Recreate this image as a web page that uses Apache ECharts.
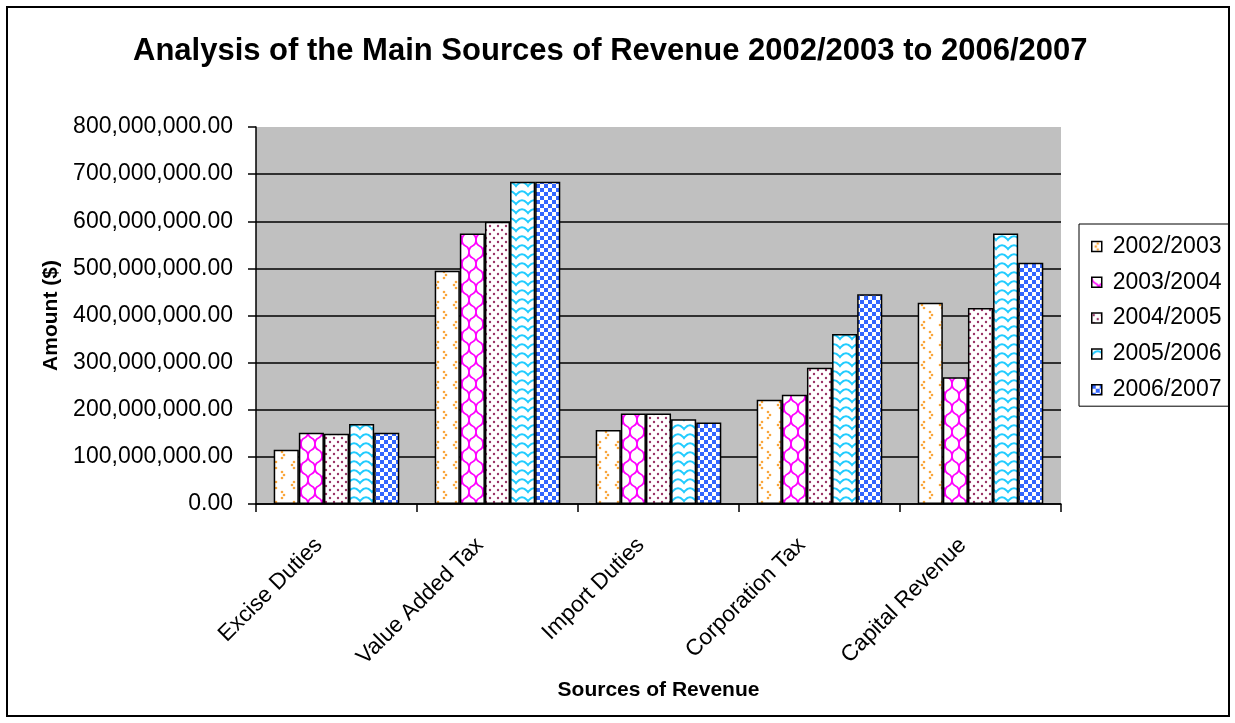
<!DOCTYPE html>
<html>
<head>
<meta charset="utf-8">
<script src="https://cdn.jsdelivr.net/npm/echarts@6/dist/echarts.min.js"></script>
<style>
  html, body { margin: 0; padding: 0; background: #fff; }
  #chart { width: 1235px; height: 723px; }
</style>
</head>
<body>
<div id="chart"></div>
<script>
// Revenue sources and yearly amounts ($)
const categories = ['Excise Duties', 'Value Added Tax', 'Import Duties', 'Corporation Tax', 'Capital Revenue'];
const years = ['2002/2003', '2003/2004', '2004/2005', '2005/2006', '2006/2007'];
const rev2002 = [115000000, 495000000, 157000000, 221000000, 427000000];
const rev2003 = [151000000, 574000000, 192000000, 232000000, 269000000];
const rev2004 = [149000000, 599000000, 192000000, 289000000, 416000000];
const rev2005 = [170000000, 684000000, 180000000, 361000000, 574000000];
const rev2006 = [151000000, 684000000, 173000000, 445000000, 512000000];
const yMin = 0, yMax = 800000000, yStep = 100000000;

const FONT = "'Liberation Sans', Arial, sans-serif";

// Hatch-style fills, drawn on small tiles that repeat across each bar
function tile(w, h, draw) {
  const c = document.createElement('canvas');
  c.width = w; c.height = h;
  const g = c.getContext('2d');
  g.fillStyle = '#fff';
  g.fillRect(0, 0, w, h);
  draw(g);
  return { image: c, repeat: 'repeat' };
}

const fills = [
  // orange chevron dots
  tile(18, 20, g => {
    g.fillStyle = '#F9A53A';
    const dot = (x, y) => { g.beginPath(); g.arc(x, y, 1.3, 0, Math.PI * 2); g.fill(); };
    dot(6, 2); dot(4, 5); dot(6, 8);
    dot(12, 12); dot(14, 15); dot(12, 18);
  }),
  // magenta scallop net
  tile(14, 24, g => {
    g.strokeStyle = '#FF00FF';
    g.lineWidth = 1.8;
    g.beginPath();
    g.moveTo(0, 0); g.bezierCurveTo(0, 9, 7, 3, 7, 12);
    g.moveTo(14, 0); g.bezierCurveTo(14, 9, 7, 3, 7, 12);
    g.moveTo(7, 12); g.bezierCurveTo(7, 21, 0, 15, 0, 24);
    g.moveTo(7, 12); g.bezierCurveTo(7, 21, 14, 15, 14, 24);
    g.stroke();
  }),
  // mauve dots
  tile(8, 8, g => {
    g.fillStyle = '#993366';
    g.beginPath(); g.arc(2, 2, 1.2, 0, Math.PI * 2); g.fill();
    g.beginPath(); g.arc(6, 6, 1.2, 0, Math.PI * 2); g.fill();
  }),
  // cyan wave chevrons
  tile(12, 9, g => {
    g.strokeStyle = '#22CCFF';
    g.lineWidth = 2;
    g.beginPath();
    g.moveTo(-1, 7.5); g.quadraticCurveTo(6, -3, 13, 7.5);
    g.stroke();
  }),
  // blue checkerboard
  tile(8, 8, g => {
    g.fillStyle = '#3366FF';
    g.fillRect(0, 0, 4, 4);
    g.fillRect(4, 4, 4, 4);
  })
];

const seriesValues = [rev2002, rev2003, rev2004, rev2005, rev2006];

function fmtAmount(v) {
  return Math.round(v).toString().replace(/\B(?=(\d{3})+(?!\d))/g, ',') + '.00';
}

const chart = echarts.init(document.getElementById('chart'), null, { renderer: 'canvas' });

chart.setOption({
  animation: false,
  backgroundColor: '#fff',
  textStyle: { fontFamily: FONT, color: '#000' },
  title: {
    text: 'Analysis of the Main Sources of Revenue 2002/2003 to 2006/2007',
    left: 133,
    top: 36,
    padding: 0,
    textStyle: { fontFamily: FONT, fontSize: 31, fontWeight: 'bold', color: '#000', lineHeight: 31 }
  },
  legend: {
    orient: 'vertical',
    left: 1079,
    top: 224,
    padding: [11, 7, 5, 12],
    itemWidth: 10,
    itemHeight: 10,
    itemGap: 12.8,
    borderColor: '#000',
    borderWidth: 1,
    icon: 'rect',
    itemStyle: { borderColor: '#000', borderWidth: 1.5 },
    textStyle: { fontFamily: FONT, fontSize: 23, lineHeight: 22, color: '#000', padding: [0, 0, 0, 6] },
    data: years
  },
  grid: {
    left: 256,
    right: 174,
    top: 127,
    bottom: 219,
    show: true,
    backgroundColor: '#C0C0C0',
    borderWidth: 0
  },
  xAxis: {
    type: 'category',
    data: categories,
    name: 'Sources of Revenue',
    nameLocation: 'middle',
    nameGap: 176,
    nameTextStyle: { fontFamily: FONT, fontSize: 21, fontWeight: 'bold', color: '#000' },
    axisLine: { lineStyle: { color: '#000', width: 1.5 } },
    axisTick: { show: true, length: 8, lineStyle: { color: '#000', width: 1.5 } },
    axisLabel: { rotate: 45, margin: 20, padding: [0, 25, 0, 0], fontFamily: FONT, fontSize: 22.5, color: '#000' }
  },
  yAxis: {
    type: 'value',
    min: yMin,
    max: yMax,
    interval: yStep,
    name: 'Amount ($)',
    nameLocation: 'middle',
    nameGap: 194,
    nameTextStyle: { fontFamily: FONT, fontSize: 21, fontWeight: 'bold', color: '#000' },
    axisLine: { show: true, lineStyle: { color: '#000', width: 1.5 } },
    axisTick: { show: true, length: 8, lineStyle: { color: '#000', width: 1.5 } },
    axisLabel: { margin: 23, fontFamily: FONT, fontSize: 23, color: '#000', formatter: fmtAmount },
    splitLine: { show: true, showMaxLine: false, lineStyle: { color: '#000', width: 1.5 } }
  },
  series: years.map((y, i) => ({
    name: y,
    type: 'bar',
    data: seriesValues[i],
    barGap: '0%',
    barCategoryGap: '22%',
    itemStyle: { color: fills[i], borderColor: '#000', borderWidth: 1.5 }
  })),
  graphic: [{
    type: 'rect',
    shape: { x: 7, y: 7, width: 1222, height: 709 },
    style: { fill: 'none', stroke: '#000', lineWidth: 2 },
    silent: true,
    z: 100
  }]
});
</script>
</body>
</html>
